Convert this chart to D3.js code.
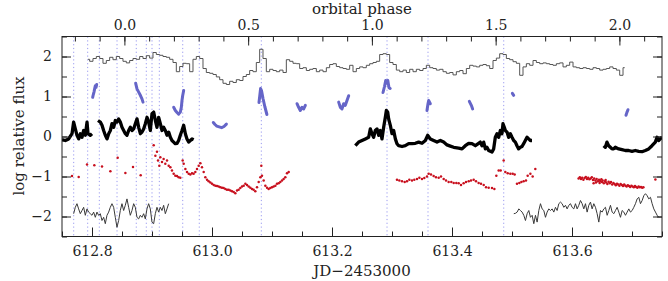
<!DOCTYPE html>
<html>
<head>
<meta charset="utf-8">
<script src="https://cdn.jsdelivr.net/npm/d3@7"></script>
<style>
  body { margin: 0; background: #fff; }
  svg text { font-family: "DejaVu Serif", serif; fill: #222; }
</style>
</head>
<body>
<script>
// ---- data ----
var markerJD = [612.7695, 612.7928, 612.8122, 612.8417, 612.8738, 612.8905, 612.9000, 612.9122,
                612.9512, 612.9788, 613.0822, 613.2917, 613.3600, 613.4862];

// 8-minute histogram at the top
var histStart = 612.7933, histStep = 0.005556;
var histFlux = [1.93, 1.88, 1.95, 2.0, 1.95, 1.83, 1.9, 1.98, 1.92, 2.0,
  1.95, 1.88, 1.84, 1.9, 1.95, 1.93, 2.0, 1.95, 2.02, 1.96,
  2.1, 2.05, 2.03, 2.0, 1.98, 1.93, 1.85, 1.62, 1.75, 1.83,
  1.82, 1.62, 1.93, 2.0, 1.95, 1.7, 1.6, 1.58, 1.55, 1.49,
  1.42, 1.33, 1.3, 1.38, 1.35, 1.42, 1.4, 1.5, 1.55, 1.65,
  1.62, 1.85, 2.18, 1.95, 1.62, 1.68, 1.65, 1.62, 1.66, 1.6,
  1.92, 1.88, 1.83, 1.82, 1.7, 1.72, 1.65, 1.68, 1.7, 1.62,
  1.66, 1.62, 1.72, 1.8, 1.82, 1.75, 1.72, 1.7, 1.68, 1.78,
  1.62, 1.7, 1.74, 1.72, 1.78, 1.82, 1.85, 1.88, 2.05, 2.07,
  2.05, 1.85, 1.8, 1.66, 1.62, 1.66, 1.6, 1.68, 1.62, 1.68,
  1.65, 1.7, 1.78, 1.72, 1.7, 1.66, 1.68, 1.62, 1.58, 1.6,
  1.54, 1.62, 1.65, 1.57, 1.7, 1.78, 1.76, 1.74, 1.78, 1.8,
  1.77, 1.7, 1.9, 1.96, 2.07, 2.05, 1.95, 1.92, 1.87, 1.83,
  1.53, 1.74, 1.82, 1.78, 1.9, 1.85, 1.82, 1.84, 1.82, 1.8,
  1.78, 1.82, 1.84, 1.74, 1.78, 1.86, 1.74, 1.72, 1.7, 1.72,
  1.7, 1.68, 1.72, 1.7, 1.66, 1.68, 1.7, 1.74, 1.7, 1.66,
  1.53, 1.72];

// blue pieces
var blueSegs = [
  [[612.8011, 0.98], [612.8022, 1.05], [612.8033, 1.11], [612.8044, 1.19], [612.8056, 1.27], [612.8067, 1.23], [612.8078, 1.3]],
  [[612.8728, 1.33], [612.875, 1.19], [612.8778, 1.11], [612.8806, 1.03], [612.8833, 0.94], [612.885, 0.86]],
  [[612.9361, 0.73], [612.9389, 0.65], [612.9417, 0.6], [612.9444, 0.56], [612.9472, 0.61], [612.9489, 0.73],
   [612.95, 0.9], [612.9511, 1.02], [612.9528, 1.15]],
  [[613.0022, 0.35], [613.005, 0.3], [613.008, 0.26], [613.012, 0.24], [613.016, 0.22], [613.02, 0.25], [613.024, 0.31]],
  [[613.0783, 0.85], [613.0795, 1.0], [613.081, 1.2], [613.0825, 1.15], [613.085, 0.95], [613.088, 0.75], [613.0915, 0.55]],
  [[613.1417, 0.82], [613.1444, 0.73], [613.1472, 0.65], [613.15, 0.73], [613.1528, 0.69], [613.1556, 0.78]],
  [[613.2111, 0.86], [613.2139, 0.73], [613.2167, 0.69], [613.2194, 0.82], [613.2222, 0.78], [613.225, 0.9], [613.2278, 1.02]],
  [[613.285, 1.1], [613.2875, 1.25], [613.2895, 1.4], [613.291, 1.33], [613.293, 1.4], [613.295, 1.22], [613.297, 1.2]],
  [[613.3583, 0.65], [613.36, 0.82], [613.3611, 0.9], [613.3639, 0.82]],
  [[613.4289, 0.88], [613.4322, 0.78], [613.4344, 0.69]],
  [[613.5006, 1.08], [613.5028, 1.03]],
  [[613.69, 0.53], [613.6917, 0.61], [613.6933, 0.67]]
];

// thick black light curve
var blackSegs = [
  [[612.75, -0.08], [612.7556, -0.1], [612.7611, -0.06], [612.7667, 0.07], [612.7694, 0.36], [612.7722, 0.19],
   [612.775, 0.03], [612.7778, -0.06], [612.7806, 0.07], [612.7833, -0.02], [612.7861, 0.15], [612.7889, 0.03],
   [612.7917, 0.36], [612.7933, 0.07], [612.7972, 0.03], [612.80, 0.07]],
  [[612.81, 0.4], [612.8139, 0.36], [612.8167, 0.28], [612.8194, 0.15], [612.8222, 0.03], [612.825, -0.06],
   [612.8278, 0.07], [612.8306, 0.15], [612.8333, 0.32], [612.8361, 0.23], [612.8389, 0.4], [612.8417, 0.36],
   [612.8444, 0.44], [612.8472, 0.36], [612.85, 0.23], [612.8528, 0.15], [612.8556, 0.07], [612.8583, 0.03],
   [612.8611, 0.15], [612.8639, 0.23], [612.8667, 0.15], [612.8694, 0.19], [612.8722, 0.32], [612.875, 0.44],
   [612.8778, 0.23], [612.8806, 0.07], [612.8833, 0.11], [612.8861, 0.19], [612.8889, 0.32], [612.8917, 0.48],
   [612.8944, 0.36], [612.8972, 0.15], [612.90, 0.57], [612.9028, 0.61], [612.9056, 0.4], [612.9083, 0.23],
   [612.9111, 0.48], [612.9139, 0.32], [612.9167, 0.15], [612.9194, 0.23], [612.9222, 0.15], [612.925, 0.03],
   [612.9278, 0.11], [612.9306, -0.02], [612.9333, -0.1], [612.9361, -0.14], [612.9389, -0.18], [612.9417, -0.17],
   [612.9444, -0.1], [612.9472, 0.03], [612.95, 0.15], [612.9528, 0.28], [612.9556, 0.07], [612.9583, -0.06],
   [612.9611, -0.14], [612.9639, -0.1], [612.9667, -0.06], [612.9694, -0.08]],
  [[613.2389, -0.23], [613.2444, -0.14], [613.25, -0.1], [613.2556, -0.06], [613.2611, -0.02], [613.2639, 0.19],
   [613.2667, 0.07], [613.2694, -0.02], [613.2722, 0.15], [613.275, 0.19], [613.2778, 0.03], [613.2806, 0.15],
   [613.2833, -0.06], [613.2861, 0.23], [613.2889, 0.48], [613.2906, 0.65], [613.2928, 0.61], [613.2944, 0.44],
   [613.2972, 0.28], [613.30, 0.07], [613.3028, 0.15], [613.3056, -0.06], [613.3083, -0.18], [613.3111, -0.23],
   [613.3167, -0.25], [613.3222, -0.23], [613.3278, -0.18], [613.3333, -0.18], [613.3389, -0.17], [613.3444, -0.14],
   [613.35, -0.17], [613.3556, -0.1], [613.3594, 0.03], [613.3639, -0.06], [613.3694, -0.1], [613.375, -0.14],
   [613.3806, -0.1], [613.3861, -0.14], [613.3917, -0.21], [613.3972, -0.24], [613.4028, -0.27], [613.4111, -0.29],
   [613.4167, -0.31], [613.4222, -0.23], [613.4278, -0.17], [613.4333, -0.18], [613.4389, -0.23], [613.4444, -0.17],
   [613.4472, -0.14], [613.45, -0.23], [613.4528, -0.14], [613.4556, -0.31], [613.4583, -0.27], [613.4611, -0.35],
   [613.4667, -0.39], [613.4694, -0.31], [613.4722, -0.02], [613.475, 0.07], [613.4778, -0.02], [613.4806, 0.15],
   [613.4833, 0.07], [613.485, 0.32], [613.4872, 0.23], [613.4889, 0.15], [613.4917, 0.11], [613.4944, -0.02],
   [613.4972, 0.07], [613.50, -0.02], [613.5028, -0.1], [613.5056, -0.14], [613.5083, -0.23], [613.5111, -0.31],
   [613.5139, -0.27], [613.5167, -0.25], [613.5194, -0.18], [613.5222, -0.1], [613.525, -0.02], [613.5278, -0.06],
   [613.5306, -0.1], [613.5333, -0.1]],
  [[613.6528, -0.23], [613.6556, -0.27], [613.6583, -0.14], [613.6611, -0.23], [613.6639, -0.27], [613.6667, -0.31],
   [613.6694, -0.31], [613.6722, -0.27], [613.6778, -0.31], [613.6833, -0.33], [613.6889, -0.35], [613.6944, -0.35],
   [613.70, -0.37], [613.7056, -0.35], [613.7111, -0.37], [613.7167, -0.38], [613.7222, -0.35], [613.7278, -0.31],
   [613.7333, -0.23], [613.7389, -0.14], [613.7417, -0.02], [613.7444, -0.1], [613.7472, -0.06], [613.75, -0.02]]
];

// red points
var redPts = [
  [612.7667, -0.99], [612.7778, -1.01], [612.7917, -0.70], [612.8039, -0.72], [612.8167, -0.75], [612.8306, -0.87],
  [612.8428, -0.53], [612.8556, -0.91], [612.8683, -0.76], [612.8811, -0.97],
  [612.9028, -0.22], [612.9056, -0.48], [612.9083, -0.38], [612.91, -0.6], [612.9122, -0.73], [612.9139, -0.52],
  [612.9167, -0.64], [612.9194, -0.56], [612.9222, -0.68], [612.925, -0.6], [612.9278, -0.73], [612.9306, -0.77],
  [612.9333, -0.85], [612.9361, -0.93], [612.9389, -0.98], [612.9417, -0.99], [612.9444, -1.02], [612.9472, -1.03],
  [612.9511, -0.6], [612.9528, -0.68], [612.9556, -0.81], [612.9583, -0.89], [612.9611, -0.93], [612.9639, -0.95],
  [612.9667, -0.92], [612.9694, -0.93], [612.9722, -0.89], [612.975, -0.81], [612.9778, -0.73], [612.9806, -0.67],
  [612.9833, -0.77], [612.9861, -0.89], [612.9889, -1.02], [612.9917, -1.08], [612.9944, -1.12], [612.9972, -1.15],
  [613.0, -1.18], [613.0028, -1.21], [613.0056, -1.23], [613.0083, -1.24], [613.0111, -1.25], [613.0139, -1.27],
  [613.0167, -1.28], [613.0194, -1.29], [613.0222, -1.31], [613.025, -1.33], [613.0278, -1.33], [613.0306, -1.35],
  [613.0333, -1.37], [613.0361, -1.39], [613.0389, -1.42], [613.0417, -1.35], [613.0444, -1.33], [613.0472, -1.29],
  [613.05, -1.25], [613.0528, -1.23], [613.0556, -1.18], [613.0583, -1.21], [613.0611, -1.25], [613.0639, -1.28],
  [613.0667, -1.31], [613.0694, -1.33], [613.0722, -1.37], [613.075, -1.27], [613.0778, -1.14], [613.0806, -1.02],
  [613.0822, -0.73], [613.0833, -0.98], [613.0861, -1.1], [613.0889, -1.23], [613.0917, -1.28], [613.0944, -1.31],
  [613.0972, -1.29], [613.1, -1.27], [613.1028, -1.25], [613.1056, -1.23], [613.1083, -1.18], [613.1111, -1.17],
  [613.1139, -1.14], [613.1167, -1.1], [613.1194, -1.06], [613.1222, -1.02], [613.125, -0.92], [613.1278, -0.89],
  [613.3083, -1.08], [613.3122, -1.1], [613.3167, -1.12], [613.3211, -1.14], [613.325, -1.12], [613.3289, -1.08],
  [613.3333, -1.1], [613.3372, -1.08], [613.3417, -1.06], [613.3456, -1.03], [613.35, -1.06], [613.3539, -1.04],
  [613.3583, -1.0], [613.3611, -0.93], [613.365, -0.95], [613.3694, -0.99], [613.3733, -1.02], [613.3778, -1.03],
  [613.3817, -1.0], [613.3861, -1.06], [613.39, -1.1], [613.3944, -1.14], [613.3989, -1.14], [613.4028, -1.16],
  [613.4072, -1.16], [613.4111, -1.17], [613.415, -1.21], [613.4194, -1.17], [613.4233, -1.14], [613.4278, -1.12],
  [613.4317, -1.1], [613.4361, -1.08], [613.44, -1.12], [613.4444, -1.16], [613.4483, -1.18], [613.4528, -1.21],
  [613.4567, -1.27], [613.4611, -1.28], [613.4667, -1.29], [613.4706, -1.31],
  [613.4739, -0.98], [613.4778, -0.85], [613.4811, -0.85], [613.4861, -0.6], [613.4889, -0.89], [613.4928, -0.92],
  [613.4972, -0.93], [613.5011, -0.93], [613.5044, -0.95], [613.5083, -1.18], [613.5122, -1.16], [613.5156, -1.14],
  [613.5194, -1.12], [613.5233, -1.1], [613.5261, -0.98], [613.5306, -0.93], [613.5344, -1.0], [613.5389, -0.81],
  [613.611, -1.05], [613.613, -1.02], [613.615, -1.06], [613.617, -1.03], [613.619, -1.08], [613.621, -1.04],
  [613.623, -1.01], [613.625, -1.06], [613.627, -1.03], [613.629, -1.07], [613.631, -1.05], [613.633, -1.02],
  [613.635, -1.09], [613.636, -1.17], [613.637, -1.05], [613.639, -1.1], [613.640, -1.15], [613.641, -1.06],
  [613.643, -1.12], [613.645, -1.08], [613.646, -1.16], [613.647, -1.11], [613.649, -1.07], [613.650, -1.14],
  [613.651, -1.1], [613.653, -1.17], [613.655, -1.12], [613.656, -1.09], [613.657, -1.15], [613.659, -1.19],
  [613.661, -1.13], [613.663, -1.17], [613.665, -1.14], [613.667, -1.2], [613.669, -1.16], [613.671, -1.19],
  [613.673, -1.22], [613.675, -1.18], [613.677, -1.2], [613.679, -1.23], [613.681, -1.19], [613.683, -1.21],
  [613.685, -1.24], [613.687, -1.2], [613.689, -1.23], [613.691, -1.25], [613.693, -1.22], [613.695, -1.24],
  [613.697, -1.26], [613.699, -1.23], [613.701, -1.25], [613.703, -1.27], [613.705, -1.24], [613.707, -1.26],
  [613.709, -1.28], [613.711, -1.25], [613.713, -1.27], [613.715, -1.26], [613.717, -1.28], [613.719, -1.27],
  [613.739, -1.075]
];

// thin grey curve at the bottom (4-min cadence)
var lowStart1 = 612.7694, lowStart2 = 613.503, lowStep = 0.002778;
var lowFlux1 = [-1.93, -1.77, -1.68, -1.81, -1.93, -1.85, -1.77, -1.97, -1.81, -1.89,
  -1.93, -1.97, -1.89, -2.02, -1.89, -1.97, -1.93, -2.1, -2.02, -2.18,
  -1.97, -1.89, -1.77, -1.68, -1.77, -2.02, -2.27, -2.1, -1.85, -1.68,
  -1.85, -1.72, -1.56, -1.77, -1.97, -1.85, -1.68, -1.77, -2.02, -2.06,
  -1.97, -2.02, -1.93, -2.06, -1.81, -1.68, -1.81, -2.14, -2.18, -1.93,
  -1.77, -1.89, -1.77, -1.85, -1.72, -1.93, -1.81, -1.68];
var lowFlux2 = [-1.93, -1.92, -1.89, -1.81, -1.85, -1.89, -1.97, -2.1, -1.93, -1.85,
  -2.02, -1.97, -2.18, -1.97, -2.14, -1.85, -1.68, -1.81, -1.85, -2.02,
  -1.89, -1.81, -1.85, -1.81, -1.89, -1.77, -1.85, -1.68, -1.64, -1.68,
  -1.77, -1.72, -1.81, -1.72, -1.68, -1.77, -1.81, -1.68, -1.81, -1.72,
  -1.6, -1.68, -1.81, -1.68, -1.89, -1.72, -1.64, -1.81, -1.68, -1.77,
  -1.93, -2.14, -1.85, -1.89, -1.81, -1.77, -1.97, -1.85, -1.72, -1.89,
  -1.93, -1.85, -1.77, -1.89, -2.02, -1.85, -1.89, -1.97, -1.89, -1.81,
  -1.89, -1.85, -1.77, -1.68, -1.56, -1.52, -1.68, -1.6, -1.48, -1.43,
  -1.48, -1.56, -1.52, -1.68, -1.81, -1.89, -1.97, -2.02];

// orbital ephemeris for the top axis
var period = 0.4125, phaseZero = 612.854;
var jdTicks = [612.8, 613.0, 613.2, 613.4, 613.6];
var phaseTicks = [0.0, 0.5, 1.0, 1.5, 2.0];
var fluxTicks = [-2, -1, 0, 1, 2];

// ---- layout ----
var W = 668, H = 281;
var pL = 62, pR = 662, pT = 36.5, pB = 236.5;

var svg = d3.select("body").append("svg")
    .attr("width", W)
    .attr("height", H);

var x = d3.scaleLinear().domain([612.75, 613.75]).range([pL, pR]);
var y = d3.scaleLinear().domain([-2.5, 2.5]).range([pB, pT]);
var xp = d3.scaleLinear()
    .domain([(612.75 - phaseZero) / period, (613.75 - phaseZero) / period])
    .range([pL, pR]);

svg.append("clipPath").attr("id", "clip")
    .append("rect").attr("x", pL).attr("y", pT).attr("width", pR - pL).attr("height", pB - pT);
var g = svg.append("g").attr("clip-path", "url(#clip)");

// dotted markers
g.selectAll(".marker")
    .data(markerJD)
    .enter()
    .append("line")
    .attr("x1", d => x(d)).attr("x2", d => x(d))
    .attr("y1", pT).attr("y2", pB)
    .attr("stroke", "#9a9af0")
    .attr("stroke-width", 1)
    .attr("stroke-dasharray", "1.2,2.6");

var line = d3.line().x(d => x(d[0])).y(d => y(d[1]));

// histogram
var histPts = histFlux.map((v, i) => [histStart + i * histStep, v]);
g.append("path")
    .attr("d", d3.line().x(d => x(d[0])).y(d => y(d[1])).curve(d3.curveStep)(histPts))
    .attr("fill", "none")
    .attr("stroke", "#555")
    .attr("stroke-width", 1);

// blue
g.selectAll(".blue")
    .data(blueSegs)
    .enter()
    .append("path")
    .attr("d", line)
    .attr("fill", "none")
    .attr("stroke", "#6565c8")
    .attr("stroke-width", 3)
    .attr("stroke-linejoin", "round")
    .attr("stroke-linecap", "round");

// black
g.selectAll(".black")
    .data(blackSegs)
    .enter()
    .append("path")
    .attr("d", line)
    .attr("fill", "none")
    .attr("stroke", "#000")
    .attr("stroke-width", 3.3)
    .attr("stroke-linejoin", "round");

// red
g.selectAll(".red")
    .data(redPts)
    .enter()
    .append("circle")
    .attr("cx", d => x(d[0]))
    .attr("cy", d => y(d[1]))
    .attr("r", 1.25)
    .attr("fill", "#c8101e");

// bottom grey curve
var low1 = lowFlux1.map((v, i) => [lowStart1 + i * lowStep, v]);
var low2 = lowFlux2.map((v, i) => [lowStart2 + i * lowStep, v]);
g.selectAll(".low")
    .data([low1, low2])
    .enter()
    .append("path")
    .attr("d", line)
    .attr("fill", "none")
    .attr("stroke", "#3a3a3a")
    .attr("stroke-width", 1);

// ---- axes ----
function minorTicks(a, b, s) {
    var out = [];
    for (var v = a; v <= b + 1e-9; v += s) out.push(+v.toFixed(3));
    return out;
}

svg.append("g").attr("transform", "translate(0," + pB + ")")
    .call(d3.axisBottom(x).tickValues(minorTicks(612.75, 613.75, 0.05)).tickSize(-5).tickFormat(""));
svg.append("g").attr("transform", "translate(0," + pB + ")")
    .call(d3.axisBottom(x).tickValues(jdTicks).tickSize(-9).tickPadding(10).tickFormat(d3.format(".1f")));

svg.append("g").attr("transform", "translate(0," + pT + ")")
    .call(d3.axisTop(xp).tickValues(minorTicks(-0.2, 2.1, 0.1)).tickSize(-5).tickFormat(""));
svg.append("g").attr("transform", "translate(0," + pT + ")")
    .call(d3.axisTop(xp).tickValues(phaseTicks).tickSize(-9).tickPadding(7).tickFormat(d3.format(".1f")));

svg.append("g").attr("transform", "translate(" + pL + ",0)")
    .call(d3.axisLeft(y).tickValues(minorTicks(-2.5, 2.5, 0.5)).tickSize(-5).tickFormat(""));
svg.append("g").attr("transform", "translate(" + pL + ",0)")
    .call(d3.axisLeft(y).tickValues(fluxTicks).tickSize(-9).tickPadding(10).tickFormat(d => d < 0 ? "\u2212" + Math.abs(d) : d));

svg.append("g").attr("transform", "translate(" + pR + ",0)")
    .call(d3.axisRight(y).tickValues(minorTicks(-2.5, 2.5, 0.5)).tickSize(-5).tickFormat(""));
svg.append("g").attr("transform", "translate(" + pR + ",0)")
    .call(d3.axisRight(y).tickValues(fluxTicks).tickSize(-9).tickFormat(""));

svg.selectAll(".domain").remove();
svg.selectAll(".tick line").attr("stroke", "#222");
svg.selectAll(".tick text").style("font-family", "DejaVu Serif, serif").style("font-size", "14px").attr("fill", "#222");

svg.append("rect")
    .attr("x", pL).attr("y", pT)
    .attr("width", pR - pL).attr("height", pB - pT)
    .attr("fill", "none")
    .attr("stroke", "#222")
    .attr("stroke-width", 1);

// titles
svg.append("text")
    .attr("x", 362).attr("y", 14)
    .attr("text-anchor", "middle")
    .style("font-size", "15px")
    .text("orbital phase");

svg.append("text")
    .attr("x", 362).attr("y", 276)
    .attr("text-anchor", "middle")
    .style("font-size", "15px")
    .text("JD\u22122453000");

svg.append("text")
    .attr("transform", "translate(24,136) rotate(-90)")
    .attr("text-anchor", "middle")
    .style("font-size", "15px")
    .text("log relative flux");
</script>
</body>
</html>
